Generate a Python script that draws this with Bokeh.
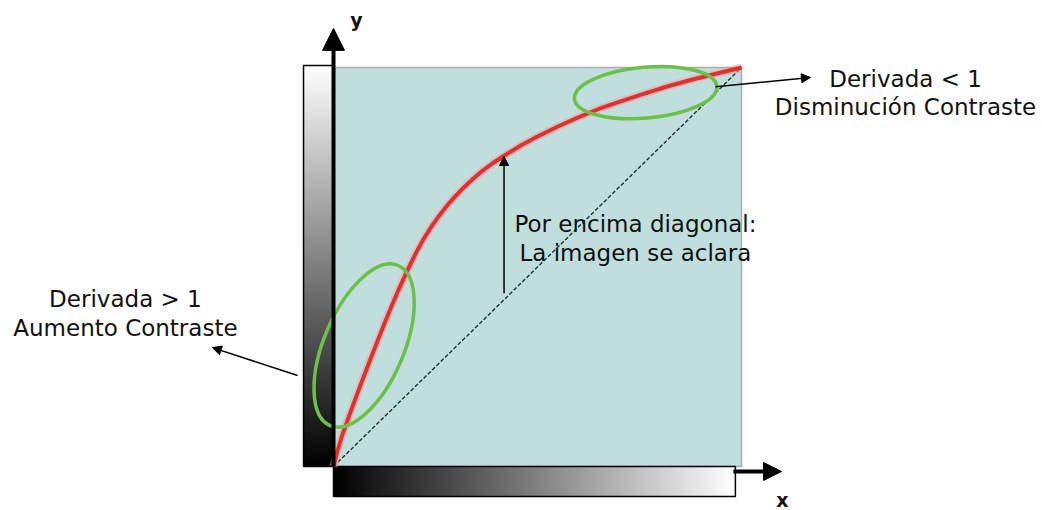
import numpy as np
from bokeh.plotting import figure
from bokeh.models import Range1d, Arrow, NormalHead
from bokeh.core.properties import value
from bokeh.embed import file_html
from bokeh.resources import INLINE

# ---- data (unit square 0..1) ----
curve_x = [0.0, 0.01, 0.02, 0.04, 0.06, 0.08, 0.10, 0.12, 0.14, 0.16, 0.18,
           0.20, 0.22, 0.24, 0.26, 0.28, 0.30, 0.32, 0.34, 0.36, 0.39, 0.42,
           0.46, 0.50, 0.55, 0.60, 0.65, 0.70, 0.76, 0.82, 0.88, 0.94, 1.0]
curve_y = [0.0, 0.040, 0.074, 0.132, 0.187, 0.241, 0.294, 0.346, 0.396, 0.444, 0.489,
           0.531, 0.569, 0.601, 0.630, 0.656, 0.679, 0.700, 0.719, 0.737, 0.760, 0.780,
           0.805, 0.827, 0.852, 0.875, 0.896, 0.914, 0.934, 0.953, 0.970, 0.985, 1.0]
diag_x = [0.0, 1.0]
diag_y = [0.0, 1.0]

right_lines = ["Derivada < 1", "Disminución Contraste"]
middle_lines = ["Por encima diagonal:", "La imagen se aclara"]
left_lines = ["Derivada > 1", "Aumento Contraste"]
axis_labels = ["y", "x"]

FONT = value("DejaVu Sans")

p = figure(width=1042, height=510, output_backend="svg", toolbar_location=None,
           x_axis_type=None, y_axis_type=None,
           x_range=Range1d(-0.8162, 1.7377), y_range=Range1d(-0.1103, 1.1679),
           min_border=0)
p.outline_line_color = None
p.grid.visible = False
p.background_fill_color = "white"

# teal square
p.quad(left=[0], right=[1], bottom=[0], top=[1], fill_color="#c0dfdc",
       line_color="#a4aeae", line_width=1.5)

# gradient bars
ramp = np.linspace(0.0, 1.0, 256)
p.image(image=[ramp.reshape(256, 1)], x=-0.0735, y=0.0, dw=0.0735, dh=1.005,
        palette="Greys256", level="glyph")
p.image(image=[ramp.reshape(1, 256)], x=0.0, y=-0.0752, dw=0.985, dh=0.0752,
        palette="Greys256", level="glyph")
p.quad(left=[-0.0735], right=[0.0], bottom=[0.0], top=[1.005], fill_color=None,
       line_color="black", line_width=1.5)
p.quad(left=[0.0], right=[0.985], bottom=[-0.0752], top=[0.0], fill_color=None,
       line_color="black", line_width=1.5)

# diagonal
p.line(diag_x, diag_y, line_color="#1f3040", line_width=1.4, line_dash="4 2")

# red curve with soft halo
p.line(curve_x, curve_y, line_color="#f4a0a0", line_width=8, line_alpha=0.5,
       line_join="round")
p.line(curve_x, curve_y, line_color="#e0302f", line_width=4, line_join="round")

# green ellipses
p.ellipse(x=[0.075], y=[0.303], width=[174], height=[80], angle=[np.deg2rad(67)],
          width_units="screen", height_units="screen",
          fill_color=None, line_color="#6cc04a", line_width=3.5)
p.ellipse(x=[0.765], y=[0.937], width=[143], height=[51], angle=[np.deg2rad(5)],
          width_units="screen", height_units="screen",
          fill_color=None, line_color="#6cc04a", line_width=3.5)

# axes arrows
p.add_layout(Arrow(end=NormalHead(size=22, fill_color="black", line_color="black"),
                   x_start=0.0, y_start=0.0, x_end=0.0, y_end=1.098,
                   line_width=4, line_color="black"))
p.add_layout(Arrow(end=NormalHead(size=18, fill_color="black", line_color="black"),
                   x_start=0.98, y_start=-0.0125, x_end=1.098, y_end=-0.0125,
                   line_width=4, line_color="black"))

# annotation arrows
small = dict(size=9, fill_color="black", line_color="black")
p.add_layout(Arrow(end=NormalHead(**small), x_start=0.418, y_start=0.434,
                   x_end=0.418, y_end=0.777, line_width=1.5, line_color="black"))
p.add_layout(Arrow(end=NormalHead(**small), x_start=0.936, y_start=0.952,
                   x_end=1.169, y_end=0.975, line_width=1.5, line_color="black"))
p.add_layout(Arrow(end=NormalHead(**small), x_start=-0.088, y_start=0.228,
                   x_end=-0.297, y_end=0.298, line_width=1.5, line_color="black"))

# texts
txt = dict(text_font=FONT, text_font_size="23px", text_align="center",
           text_baseline="middle", text_color="#111111")
p.text(x=[1.402, 1.402], y=[0.972, 0.900], text=right_lines, **txt)
p.text(x=[0.740, 0.740], y=[0.609, 0.536], text=middle_lines, **txt)
p.text(x=[-0.510, -0.510], y=[0.421, 0.346], text=left_lines, **txt)

lab = dict(text_font=FONT, text_font_size="19px", text_font_style="bold",
           text_align="center", text_baseline="middle", text_color="#111111")
p.text(x=[0.056, 1.100], y=[1.118, -0.085], text=axis_labels, **lab)

open("out.html", "w").write(file_html(p, INLINE))
